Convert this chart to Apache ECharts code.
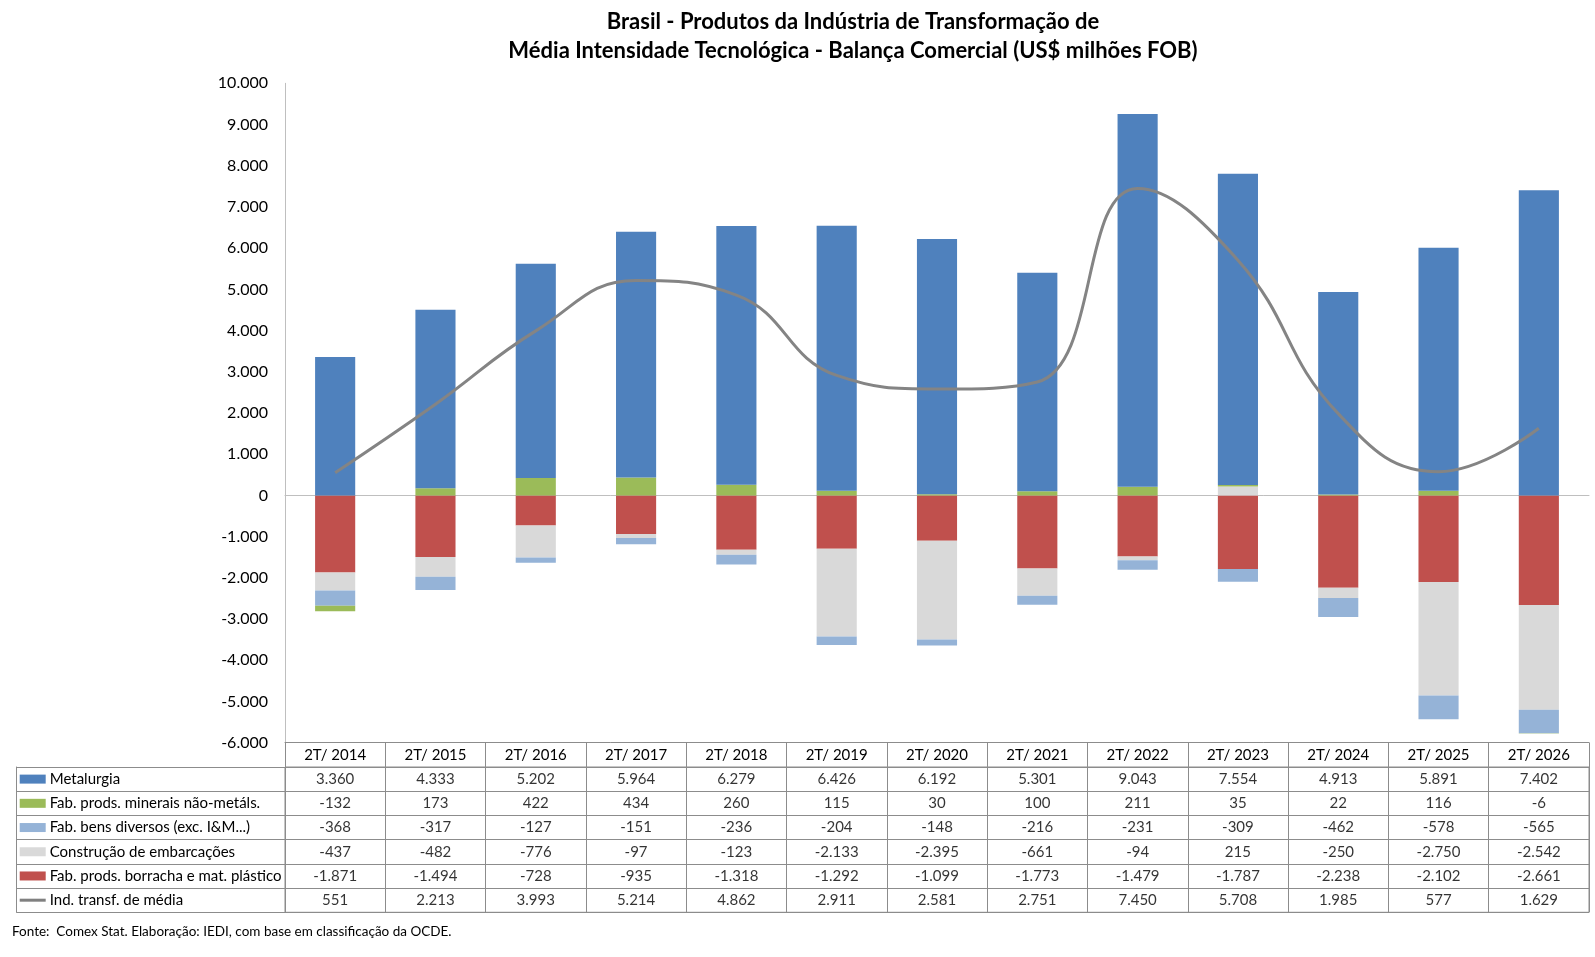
<!DOCTYPE html>
<html>
<head>
<meta charset="utf-8">
<script src="https://cdn.jsdelivr.net/npm/echarts@6/dist/echarts.min.js"></script>
<style>
html,body{margin:0;padding:0;background:#fff;}
#c{width:1595px;height:957px;}
</style>
</head>
<body>
<div id="c"></div>
<script>
const categories = ['2T/ 2014','2T/ 2015','2T/ 2016','2T/ 2017','2T/ 2018','2T/ 2019','2T/ 2020','2T/ 2021','2T/ 2022','2T/ 2023','2T/ 2024','2T/ 2025','2T/ 2026'];
const metalurgia   = [3360,4333,5202,5964,6279,6426,6192,5301,9043,7554,4913,5891,7402];
const minerais     = [-132,173,422,434,260,115,30,100,211,35,22,116,-6];
const bensDiversos = [-368,-317,-127,-151,-236,-204,-148,-216,-231,-309,-462,-578,-565];
const embarcacoes  = [-437,-482,-776,-97,-123,-2133,-2395,-661,-94,215,-250,-2750,-2542];
const borracha     = [-1871,-1494,-728,-935,-1318,-1292,-1099,-1773,-1479,-1787,-2238,-2102,-2661];
const mediaTotal   = [551,2213,3993,5214,4862,2911,2581,2751,7450,5708,1985,577,1629];
const seriesNames = ['Metalurgia','Fab. prods. minerais não-metáls.','Fab. bens diversos (exc. I&M...)','Construção de embarcações','Fab. prods. borracha e mat. plástico','Ind. transf. de média'];
const yTicks = {min:-6000, max:10000, interval:1000};

const colors = ['#4F81BD','#9BBB59','#95B3D7','#D9D9D9','#C0504D','#808080'];
const FONT = 'Lato, "Open Sans", sans-serif';
const tableColor = '#8c8c8c';

function fmt(v){
  const s = Math.abs(v).toString().replace(/\B(?=(\d{3})+(?!\d))/g,'.');
  return (v<0?'-':'') + s;
}

const tableRows = [metalurgia, minerais, bensDiversos, embarcacoes, borracha, mediaTotal];
const cellData = [];
tableRows.forEach((row, r) => row.forEach((v, i) => cellData.push([i, r, v])));

const rich = {t:{fontSize:15, color:'#000', fontFamily:FONT, padding:[0,0,0,4]}};
colors.forEach((c, i) => {
  rich['k'+i] = {width:26, height: i===5 ? 3 : 9, backgroundColor:c};
});

const chart = echarts.init(document.getElementById('c'));
chart.setOption({
  animation:false,
  backgroundColor:'#fff',
  textStyle:{fontFamily:FONT},
  graphic:[
    {type:'text', x:853, y:7, style:{text:'Brasil - Produtos da Indústria de Transformação de\nMédia Intensidade Tecnológica - Balança Comercial (US$ milhões FOB)', textAlign:'center', fontSize:22, fontWeight:'bold', lineHeight:29, fontFamily:FONT, fill:'#000'}},
    {type:'text', x:12, y:925, style:{text:'Fonte:  Comex Stat. Elaboração: IEDI, com base em classificação da OCDE.', fontSize:13.5, fontFamily:FONT, fill:'#000'}}
  ],
  grid:[
    {left:285, right:6, top:83.3, height:659.4},
    {left:285, right:6, top:767, height:145.3, show:true, borderColor:tableColor, borderWidth:1}
  ],
  xAxis:[
    {type:'category', gridIndex:0, data:categories, axisLine:{show:true, onZero:true, lineStyle:{color:'#BFBFBF'}}, axisTick:{show:false}, axisLabel:{show:false}},
    {type:'category', gridIndex:0, data:categories, position:'bottom', axisLine:{show:true, onZero:false, lineStyle:{color:tableColor}}, axisTick:{show:true, length:24.3, interval:0, lineStyle:{color:tableColor}}, axisLabel:{interval:0, fontSize:15, color:'#000', margin:5, fontFamily:FONT}},
    {type:'category', gridIndex:1, data:categories, axisLine:{show:false}, axisTick:{show:false}, axisLabel:{show:false}, splitLine:{show:true, interval:0, lineStyle:{color:tableColor}}}
  ],
  yAxis:[
    {type:'value', gridIndex:0, min:yTicks.min, max:yTicks.max, interval:yTicks.interval, axisLine:{show:true, lineStyle:{color:'#BFBFBF'}}, axisTick:{show:false}, splitLine:{show:false}, axisLabel:{fontSize:16, color:'#000', margin:17, fontFamily:FONT, formatter:v=>fmt(v)}},
    {type:'category', gridIndex:1, data:seriesNames, inverse:true, axisLine:{show:true, lineStyle:{color:tableColor}}, axisTick:{show:true, length:268.6, interval:0, lineStyle:{color:tableColor}}, splitLine:{show:true, interval:0, lineStyle:{color:tableColor}}, axisLabel:{interval:0, align:'left', margin:265.3, formatter:(v,i)=>'{k'+i+'|}{t|'+v+'}', rich:rich}},
    {type:'category', gridIndex:1, data:seriesNames, inverse:true, position:'left', offset:268.6, axisLine:{show:true, lineStyle:{color:tableColor}}, axisTick:{show:false}, axisLabel:{show:false}, splitLine:{show:false}}
  ],
  series:[
    {name:seriesNames[4], type:'bar', stack:'total', data:borracha, itemStyle:{color:colors[4]}, barWidth:'40%'},
    {name:seriesNames[3], type:'bar', stack:'total', data:embarcacoes, itemStyle:{color:colors[3]}, barWidth:'40%'},
    {name:seriesNames[2], type:'bar', stack:'total', data:bensDiversos, itemStyle:{color:colors[2]}, barWidth:'40%'},
    {name:seriesNames[1], type:'bar', stack:'total', data:minerais, itemStyle:{color:colors[1]}, barWidth:'40%'},
    {name:seriesNames[0], type:'bar', stack:'total', data:metalurgia, itemStyle:{color:colors[0]}, barWidth:'40%'},
    {name:seriesNames[5], type:'line', data:mediaTotal, smooth:0.45, showSymbol:false, symbol:'none', lineStyle:{color:'#848484', width:3}, z:5},
    {type:'scatter', xAxisIndex:2, yAxisIndex:1, data:cellData, symbolSize:1, itemStyle:{color:'rgba(0,0,0,0)'}, label:{show:true, position:'inside', fontSize:15, color:'#000', fontFamily:FONT, formatter:p=>fmt(p.value[2])}, silent:true}
  ]
});
</script>
</body>
</html>
